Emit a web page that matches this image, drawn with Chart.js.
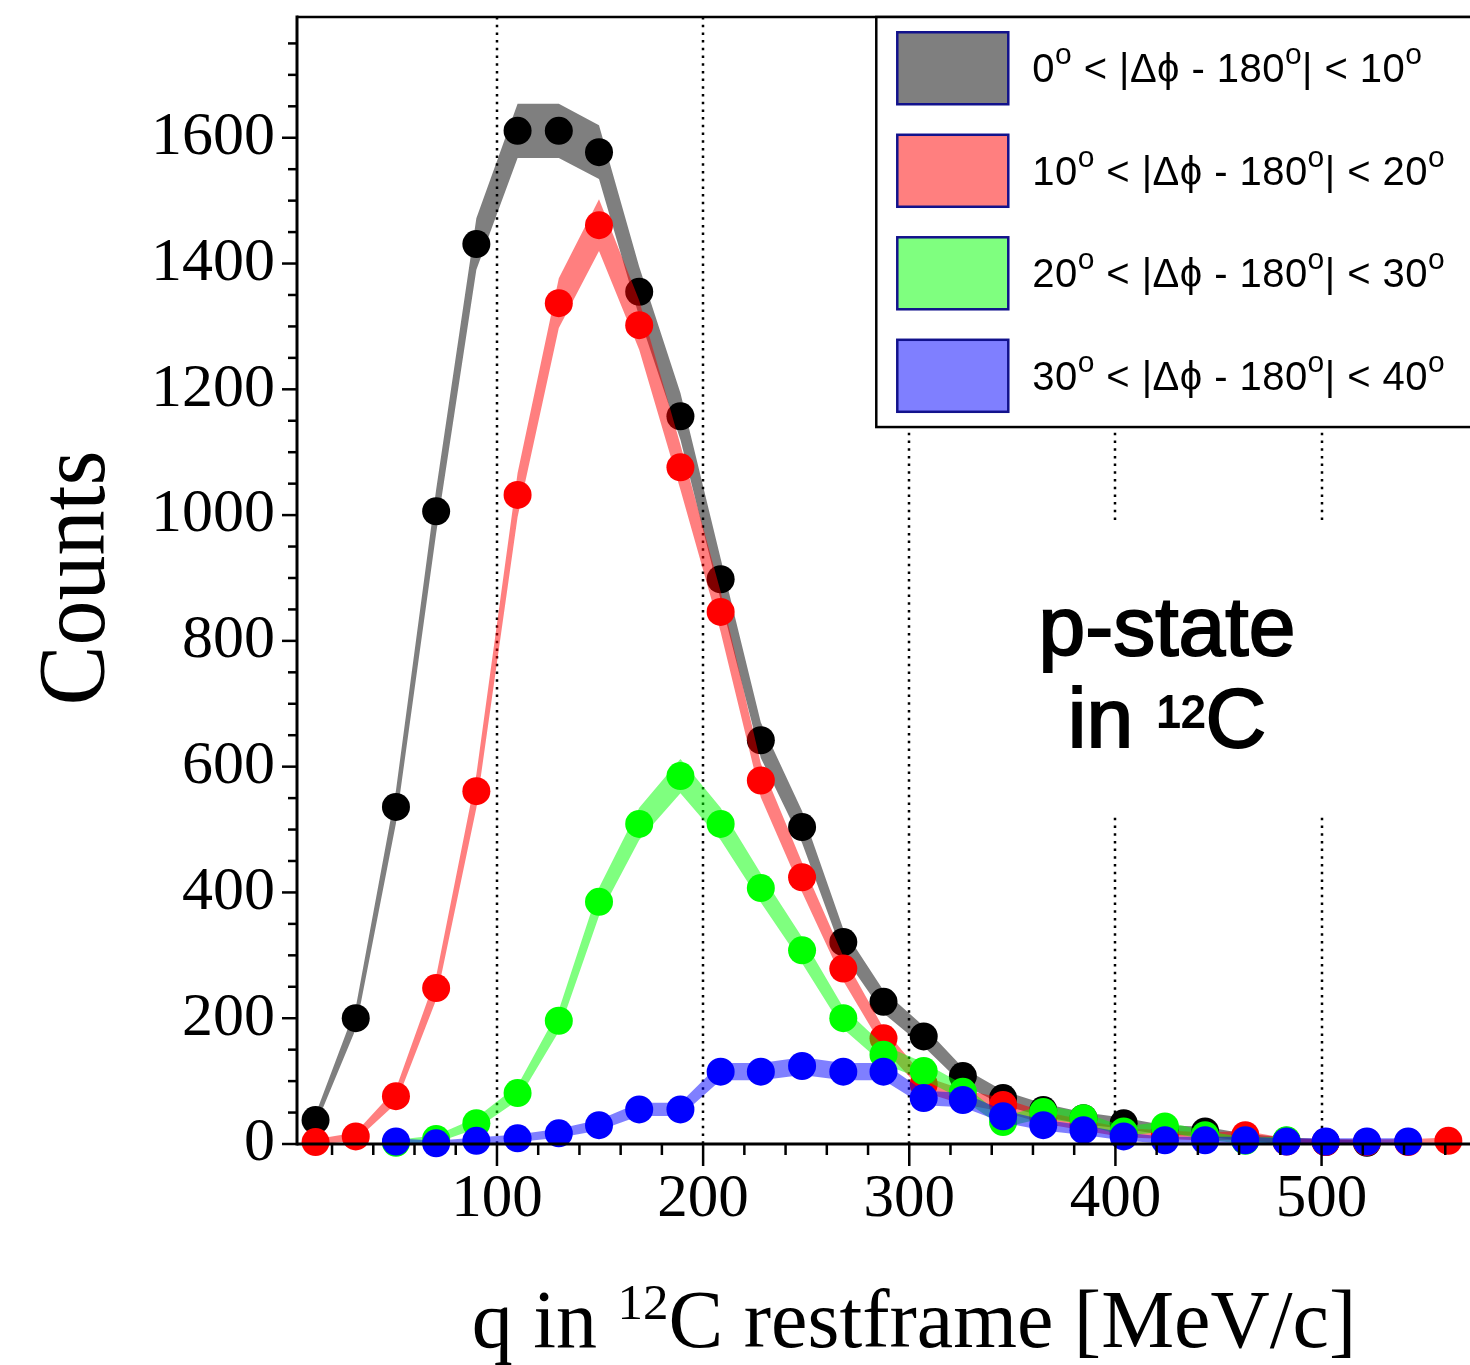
<!DOCTYPE html>
<html>
<head>
<meta charset="utf-8">
<title>q distribution, p-state in 12C</title>
<script src="https://cdn.jsdelivr.net/npm/chart.js@4.4.1/dist/chart.umd.min.js"></script>
<style>
  html, body { margin: 0; padding: 0; background: #fff; }
  #wrap { width: 1470px; height: 1365px; }
</style>
</head>
<body>
<div id="wrap"><canvas id="qplot" width="1470" height="1365"></canvas></div>
<script>
/*-------------------------------------------------------------------------*/
// Data: counts per q bin for the four |dphi - 180| slices
/*-------------------------------------------------------------------------*/
var qBins = [12, 31.5, 51, 70.5, 90, 110, 130, 149.5, 169, 189, 208.5, 228, 248, 268, 287.5,
             307, 326, 345.5, 365, 384.5, 404, 424, 443.5, 463, 483, 502, 522, 542, 561.5];

var counts0to10  = [38, 200, 536, 1006, 1431, 1611, 1611, 1577, 1355, 1157, 898, 642, 504, 321, 226,
                    171, 108, 73, 54, 41, 33, 22, 20, 10, 5, 3, 2, null, null];
var counts10to20 = [3, 12, 76, 248, 561, 1032, 1337, 1461, 1302, 1076, 846, 578, 424, 279, 168,
                    95, 75, 62, 42, 30, 18, 15, 12, 14, 4, 3, 3, 3, 5];
var counts20to30 = [null, null, 2, 8, 33, 81, 196, 385, 509, 585, 509, 407, 308, 200, 142,
                    116, 83, 35, 51, 41, 20, 28, 14, 5, 6, null, null, null, null];
var counts30to40 = [null, null, 4, 1, 5, 9, 17, 30, 55, 55, 115, 115, 124, 115, 115,
                    73, 70, 44, 30, 22, 12, 6, 6, 6, 4, 4, 4, 4, null];

var xTickLabels = [100, 200, 300, 400, 500];
var yTickLabels = [0, 200, 400, 600, 800, 1000, 1200, 1400, 1600];

// ^{...} marks a raised part of the text
var legendLabels = [
  '0^{o} < |\u0394\u03d5 - 180^{o}| < 10^{o}',
  '10^{o} < |\u0394\u03d5 - 180^{o}| < 20^{o}',
  '20^{o} < |\u0394\u03d5 - 180^{o}| < 30^{o}',
  '30^{o} < |\u0394\u03d5 - 180^{o}| < 40^{o}'
];
var xTitle = 'q in ^{12}C restframe [MeV/c]';
var yTitle = 'Counts';
var noteLines = ['p-state', 'in ^{12}C'];

var seriesList   = [counts0to10, counts10to20, counts20to30, counts30to40];
var markerColors = ['#000000', '#ff0000', '#00ff00', '#0000ff'];
var bandColors   = ['rgba(0,0,0,0.5)', 'rgba(255,0,0,0.5)', 'rgba(0,255,0,0.5)', 'rgba(0,0,255,0.5)'];

var SERIF = '"Liberation Serif", "Times New Roman", Times, serif';
var SANS  = '"Liberation Sans", Arial, Helvetica, sans-serif';

/*-------------------------------------------------------------------------*/
// Helpers
/*-------------------------------------------------------------------------*/
function splitRich(text) {
	var parts = [], re = /\^\{([^}]*)\}/g, last = 0, m;
	while ((m = re.exec(text))) {
		if (m.index > last) parts.push({ t: text.slice(last, m.index), sup: false });
		parts.push({ t: m[1], sup: true });
		last = re.lastIndex;
	}
	if (last < text.length) parts.push({ t: text.slice(last), sup: false });
	return parts;
}

function richWidth(ctx, parts, st) {
	var w = 0;
	parts.forEach(function (p) {
		ctx.font = p.sup ? st.supFont : st.font;
		w += ctx.measureText(p.t).width;
	});
	return w;
}

function drawRich(ctx, parts, x, y, st) {
	ctx.textAlign = 'left';
	ctx.textBaseline = 'alphabetic';
	parts.forEach(function (p) {
		ctx.font = p.sup ? st.supFont : st.font;
		var yy = p.sup ? y - st.rise : y;
		ctx.fillText(p.t, x, yy);
		if (st.stroke) ctx.strokeText(p.t, x, yy);
		x += ctx.measureText(p.t).width;
	});
}

function line(ctx, x1, y1, x2, y2) {
	ctx.beginPath();
	ctx.moveTo(x1, y1);
	ctx.lineTo(x2, y2);
	ctx.stroke();
}

// one error band and one marker set per slice
function buildDatasets() {
	var sets = [];
	seriesList.forEach(function (vals, s) {
		var upper = [], lower = [], pts = [];
		vals.forEach(function (v, i) {
			if (v === null) return;
			var err = Math.sqrt(v) + 3;
			upper.push({ x: qBins[i], y: v + err });
			lower.push({ x: qBins[i], y: v - err });
			pts.push({ x: qBins[i], y: v });
		});
		var depth = 40 - 10 * s;
		sets.push({ data: upper, borderWidth: 0, borderColor: 'transparent', pointRadius: 0, fill: false, order: depth });
		sets.push({ data: lower, borderWidth: 0, borderColor: 'transparent', pointRadius: 0, fill: '-1',
		            backgroundColor: bandColors[s], order: depth });
		sets.push({ data: pts, showLine: false, pointRadius: 14, pointBackgroundColor: markerColors[s],
		            pointBorderWidth: 0, order: depth - 1, clip: false });
	});
	return sets;
}

/*-------------------------------------------------------------------------*/
// Frame, ticks, legend and labels
/*-------------------------------------------------------------------------*/
var legendBox = { qLeft: 284, countsBottom: 1140 };
var noteBox = { qMin: 339, qMax: 514, yMin: 523, yMax: 989 };
var notePos = { q: 425, baselines: [778, 631] };

var frameDecor = {
	id: 'frameDecor',
	beforeDatasetsDraw: function (chart) {
		var ctx = chart.ctx, a = chart.chartArea, xs = chart.scales.x, ys = chart.scales.y;
		ctx.save();
		// dotted grid at the labelled q values
		ctx.strokeStyle = '#000';
		ctx.lineWidth = 2.5;
		ctx.setLineDash([2.5, 5.2]);
		xTickLabels.forEach(function (v) {
			var px = Math.round(xs.getPixelForValue(v));
			line(ctx, px, a.top, px, a.bottom);
		});
		ctx.setLineDash([]);
		// white patch behind the state label
		ctx.fillStyle = '#fff';
		var x1 = xs.getPixelForValue(noteBox.qMin), x2 = xs.getPixelForValue(noteBox.qMax);
		var y1 = ys.getPixelForValue(noteBox.yMax), y2 = ys.getPixelForValue(noteBox.yMin);
		ctx.fillRect(x1, y1, x2 - x1, y2 - y1);
		ctx.restore();
	},
	afterDatasetsDraw: function (chart) {
		var ctx = chart.ctx, a = chart.chartArea, xs = chart.scales.x, ys = chart.scales.y;
		ctx.save();
		ctx.strokeStyle = '#000';
		ctx.lineCap = 'butt';

		// axes and top edge of the frame
		ctx.lineWidth = 3;
		line(ctx, a.left, a.bottom, chart.width, a.bottom);
		line(ctx, a.left, a.top - 1.5, a.left, a.bottom + 1.5);
		ctx.lineWidth = 2.5;
		line(ctx, a.left, a.top, chart.width, a.top);

		// tick marks, outside the frame
		ctx.lineWidth = 2.5;
		xs.ticks.forEach(function (t) {
			var px = xs.getPixelForValue(t.value);
			var len = xTickLabels.indexOf(t.value) >= 0 ? 22 : 11;
			line(ctx, px, a.bottom, px, a.bottom + len);
		});
		ys.ticks.forEach(function (t) {
			var py = ys.getPixelForValue(t.value);
			var len = yTickLabels.indexOf(t.value) >= 0 ? 15 : 9;
			line(ctx, a.left - len, py, a.left, py);
		});

		// legend
		var lx = xs.getPixelForValue(legendBox.qLeft);
		var lb = ys.getPixelForValue(legendBox.countsBottom);
		ctx.fillStyle = '#fff';
		ctx.fillRect(lx, a.top, chart.width - lx + 5, lb - a.top);
		ctx.lineWidth = 2.5;
		ctx.strokeRect(lx, a.top, chart.width - lx + 5, lb - a.top);

		var rowH = (lb - a.top) / legendLabels.length;
		var st = { font: '40px ' + SANS, supFont: '30px ' + SANS, rise: 18 };
		var first = splitRich(legendLabels[0]);
		ctx.letterSpacing = '0px';
		var natural = richWidth(ctx, first, st);
		var nChars = first.reduce(function (n, p) { return n + p.t.length; }, 0);
		var spacing = (390 - natural) / nChars;
		legendLabels.forEach(function (lbl, i) {
			var cy = a.top + rowH * (i + 0.5);
			ctx.fillStyle = '#fff';
			ctx.fillRect(lx + 21, cy - 36, 111, 72);
			ctx.fillStyle = bandColors[i];
			ctx.fillRect(lx + 21, cy - 36, 111, 72);
			ctx.strokeStyle = '#12128c';
			ctx.lineWidth = 2.5;
			ctx.strokeRect(lx + 21, cy - 36, 111, 72);
			ctx.fillStyle = '#000';
			ctx.letterSpacing = spacing.toFixed(2) + 'px';
			drawRich(ctx, splitRich(lbl), lx + 156, cy + 14, st);
			ctx.letterSpacing = '0px';
		});

		// state label
		ctx.fillStyle = '#000';
		ctx.strokeStyle = '#000';
		ctx.lineWidth = 2;
		var nst = { font: '84px ' + SANS, supFont: '44px ' + SANS, rise: 20, stroke: true };
		var cx = xs.getPixelForValue(notePos.q);
		noteLines.forEach(function (txt, i) {
			var parts = splitRich(txt);
			var w = richWidth(ctx, parts, nst);
			drawRich(ctx, parts, cx - w / 2, ys.getPixelForValue(notePos.baselines[i]), nst);
		});
		ctx.restore();
	},
	afterDraw: function (chart) {
		var ctx = chart.ctx;
		ctx.save();
		ctx.fillStyle = '#000';

		// x title
		var tst = { font: '82px ' + SERIF, supFont: '51px ' + SERIF, rise: 28 };
		var parts = splitRich(xTitle);
		var w = richWidth(ctx, parts, tst);
		drawRich(ctx, parts, 914 - w / 2, 1347, tst);

		// y title, rotated
		ctx.translate(104, 578);
		ctx.rotate(-Math.PI / 2);
		ctx.font = '96px ' + SERIF;
		var yw = ctx.measureText(yTitle).width;
		ctx.scale(255 / yw, 1);
		ctx.textAlign = 'center';
		ctx.textBaseline = 'alphabetic';
		ctx.fillText(yTitle, 0, 0);
		ctx.restore();
	}
};

/*-------------------------------------------------------------------------*/
// Chart
/*-------------------------------------------------------------------------*/
Chart.defaults.font.family = SERIF;
Chart.defaults.color = '#000';

var qChart = new Chart(document.getElementById('qplot'), {
	type: 'line',
	data: { datasets: buildDatasets() },
	options: {
		responsive: false,
		animation: false,
		events: [],
		layout: { autoPadding: false, padding: { top: 17, right: 0, bottom: 0, left: 0 } },
		plugins: {
			legend: { display: false },
			tooltip: { enabled: false }
		},
		scales: {
			x: {
				type: 'linear',
				min: 3,
				max: 572,
				grid: { display: false, drawTicks: false },
				border: { display: false },
				ticks: {
					stepSize: 20,
					includeBounds: false,
					autoSkip: false,
					maxRotation: 0,
					padding: 19,
					font: { family: SERIF, size: 61 },
					callback: function (v) { return xTickLabels.indexOf(v) >= 0 ? String(v) : ''; }
				},
				afterFit: function (s) { s.height = 221; s.paddingLeft = 0; s.paddingRight = 0; }
			},
			y: {
				type: 'linear',
				min: 0,
				max: 1792,
				grid: { display: false, drawTicks: false },
				border: { display: false },
				ticks: {
					stepSize: 50,
					includeBounds: false,
					autoSkip: false,
					padding: 22,
					font: { family: SERIF, size: 62 },
					callback: function (v) { return yTickLabels.indexOf(v) >= 0 ? String(v) : ''; }
				},
				afterFit: function (s) { s.width = 297; s.paddingTop = 0; s.paddingBottom = 0; }
			}
		}
	},
	plugins: [frameDecor]
});
</script>
</body>
</html>
